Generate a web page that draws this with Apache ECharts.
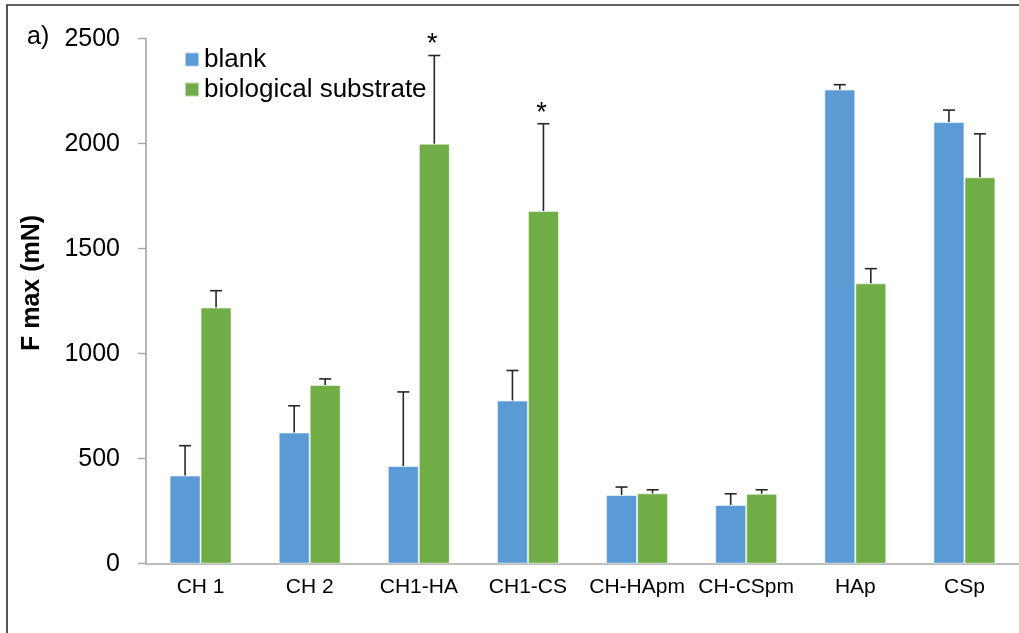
<!DOCTYPE html>
<html>
<head>
<meta charset="utf-8">
<script src="https://cdn.jsdelivr.net/npm/echarts@6/dist/echarts.min.js"></script>
<style>
  html, body { margin: 0; padding: 0; background: #fff; }
  #chart { width: 1019px; height: 633px; }
</style>
</head>
<body>
<div id="chart"></div>
<script>
// Maximum force per formulation, with and without the biological substrate
const categories = ['CH 1', 'CH 2', 'CH1-HA', 'CH1-CS', 'CH-HApm', 'CH-CSpm', 'HAp', 'CSp'];
const blank      = [420, 625, 465, 777, 327, 280, 2258, 2103];
const blankErr   = [142, 127, 353, 143, 38, 53, 23, 57];
const bio        = [1220, 851, 2000, 1680, 335, 333, 1335, 1840];
const bioErr     = [80, 29, 420, 415, 17, 19, 70, 207];
const bioSignif  = ['', '', '*', '*', '', '', '', ''];
const yTicks     = { min: 0, max: 2500, interval: 500 };

const FONT = "'Liberation Sans', Arial, sans-serif";
const BAR_W = 31;
const BLUE = '#5B9BD5';
const GREEN = '#70AD47';

// error bar (upper whisker only) drawn beside the matching bar
function errorSeries(name, values, errs, side, marks) {
  return {
    type: 'custom',
    name: name + ' error',
    silent: true,
    z: 5,
    data: values.map((v, i) => [i, v, errs[i]]),
    renderItem: function (params, api) {
      const i = api.value(0);
      const v = api.value(1);
      const e = api.value(2);
      const base = api.coord([i, v]);
      const top = api.coord([i, v + e]);
      const x = base[0] + side * BAR_W / 2;
      const children = [
        { type: 'line', shape: { x1: x, y1: base[1], x2: x, y2: top[1] },
          style: { stroke: '#262626', lineWidth: 1.6 } },
        { type: 'line', shape: { x1: x - 6, y1: top[1], x2: x + 6, y2: top[1] },
          style: { stroke: '#262626', lineWidth: 1.6 } }
      ];
      const mark = marks ? marks[i] : '';
      if (mark) {
        children.push({
          type: 'text',
          style: { text: mark, x: x - 2, y: top[1] + 3, align: 'center', verticalAlign: 'bottom',
                   font: '27px ' + FONT, fill: '#000' }
        });
      }
      return { type: 'group', children: children };
    }
  };
}

const chart = echarts.init(document.getElementById('chart'), null, { renderer: 'canvas' });

chart.setOption({
  backgroundColor: '#fff',
  animation: false,
  grid: { left: 146, top: 38.7, height: 525, width: 875, containLabel: false },
  legend: {
    orient: 'vertical',
    left: 184,
    top: 46.5,
    padding: 0,
    itemWidth: 14,
    itemHeight: 14,
    itemGap: 4,
    icon: 'rect',
    textStyle: { fontFamily: FONT, fontSize: 26, color: '#000' },
    data: ['blank', 'biological substrate']
  },
  xAxis: {
    type: 'category',
    data: categories,
    axisLine: { lineStyle: { color: '#A6A6A6', width: 1.6 } },
    axisTick: { show: false },
    axisLabel: { fontFamily: FONT, fontSize: 21, color: '#000', margin: 13, interval: 0 }
  },
  yAxis: {
    type: 'value',
    min: yTicks.min,
    max: yTicks.max,
    interval: yTicks.interval,
    axisLine: { show: true, lineStyle: { color: '#A6A6A6', width: 1.6 } },
    axisTick: { show: true, length: 8, lineStyle: { color: '#A6A6A6', width: 1.4 } },
    splitLine: { show: false },
    axisLabel: { fontFamily: FONT, fontSize: 25, color: '#000', margin: 26,
                 formatter: (v) => String(v) }
  },
  series: [
    {
      name: 'blank',
      type: 'bar',
      data: blank,
      barWidth: BAR_W,
      barGap: '0%',
      itemStyle: { color: BLUE, borderColor: 'rgba(255,255,255,0.55)', borderWidth: 1 }
    },
    {
      name: 'biological substrate',
      type: 'bar',
      data: bio,
      barWidth: BAR_W,
      barGap: '0%',
      itemStyle: { color: GREEN, borderColor: 'rgba(255,255,255,0.55)', borderWidth: 1 }
    },
    errorSeries('blank', blank, blankErr, -1, null),
    errorSeries('biological substrate', bio, bioErr, 1, bioSignif)
  ],
  graphic: [
    // outer frame
    { type: 'rect', shape: { x: 7, y: 5, width: 1100, height: 700 },
      style: { fill: 'none', stroke: '#2b2b2b', lineWidth: 1.6 }, silent: true },
    // panel letter
    { type: 'text', left: 27, top: 25,
      style: { text: 'a)', font: '25px ' + FONT, fill: '#000' } },
    // y-axis title
    { type: 'text', x: 32, y: 283, rotation: Math.PI / 2,
      style: { text: 'F max (mN)', font: 'bold 25px ' + FONT, fill: '#000',
               align: 'center', verticalAlign: 'middle' } }
  ]
});
</script>
</body>
</html>
